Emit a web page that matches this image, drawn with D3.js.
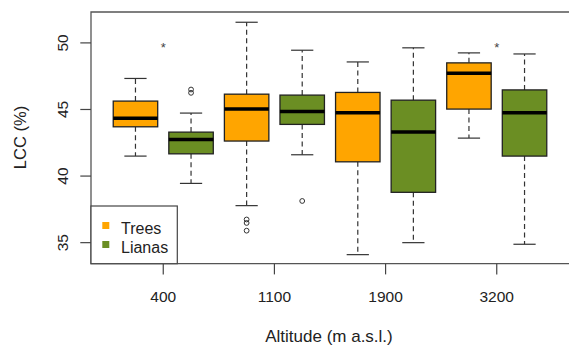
<!DOCTYPE html>
<html>
<head>
<meta charset="utf-8">
<script src="https://cdn.jsdelivr.net/npm/d3@7"></script>
<style>
  body { margin: 0; background: #fff; }
  text { font-family: "Liberation Sans", Arial, sans-serif; fill: #222; }
</style>
</head>
<body>
<svg id="lcc-boxplot" width="569" height="352"></svg>
<script>
// altitude classes and growth forms
var altitudes = ["400", "1100", "1900", "3200"];
var groups = ["Trees", "Lianas"];

// box stats per altitude: [lower whisker, q1, median, q3, upper whisker]
var treesStats = [
  [41.5, 43.7, 44.35, 45.63, 47.33],
  [37.78, 42.63, 45.03, 46.15, 51.55],
  [34.1, 41.07, 44.75, 46.28, 48.57],
  [42.85, 45.03, 47.73, 48.5, 49.25],
];
var lianasStats = [
  [39.45, 41.67, 42.75, 43.3, 44.73],
  [41.6, 43.88, 44.85, 46.08, 49.45],
  [35.0, 38.78, 43.3, 45.7, 49.63],
  [34.88, 41.5, 44.75, 46.47, 49.17],
];

// outliers per altitude
var treesOutliers = [[], [36.74, 36.48, 35.9], [], []];
var lianasOutliers = [[46.5, 46.25], [38.13], [], []];

// significance marks per altitude
var signifMarks = ["*", "", "", "*"];
var signifValue = 49.85;

var yTicks = [35, 40, 45, 50];

var svg = d3.select("#lcc-boxplot"),
  mLeft = 91,
  mTop = 12,
  mBottom = 263.7,
  mRight = 572;

var color = { Trees: "#FFA500", Lianas: "#6B8E23" };

// box positions: trees at 1,3,5,7 and lianas at 2,4,6,8
var x = d3.scaleLinear().domain([0.2, 8.8]).range([mLeft, 569]);
var y = d3.scaleLinear().domain([33.42, 52.32]).range([mBottom, mTop]);
var boxW = x(0.8) - x(0);

var boxes = [];
altitudes.forEach(function (alt, i) {
  boxes.push({ group: "Trees", pos: i * 2 + 1, s: treesStats[i], out: treesOutliers[i] });
  boxes.push({ group: "Lianas", pos: i * 2 + 2, s: lianasStats[i], out: lianasOutliers[i] });
});

var g = svg.append("g");

var box = g
  .selectAll(".box")
  .data(boxes)
  .enter()
  .append("g")
  .attr("class", "box");

// whiskers
[[3, 4], [1, 0]].forEach(function (k) {
  box
    .append("line")
    .attr("x1", (d) => x(d.pos))
    .attr("x2", (d) => x(d.pos))
    .attr("y1", (d) => y(d.s[k[0]]))
    .attr("y2", (d) => y(d.s[k[1]]))
    .attr("stroke", "#333")
    .attr("stroke-width", 1.2)
    .attr("stroke-dasharray", "5,3.5");
});

// staples
[0, 4].forEach(function (k) {
  box
    .append("line")
    .attr("x1", (d) => x(d.pos) - boxW / 4)
    .attr("x2", (d) => x(d.pos) + boxW / 4)
    .attr("y1", (d) => y(d.s[k]))
    .attr("y2", (d) => y(d.s[k]))
    .attr("stroke", "#333")
    .attr("stroke-width", 1.2);
});

box
  .append("rect")
  .attr("x", (d) => x(d.pos) - boxW / 2)
  .attr("width", boxW)
  .attr("y", (d) => y(d.s[3]))
  .attr("height", (d) => y(d.s[1]) - y(d.s[3]))
  .attr("fill", (d) => color[d.group])
  .attr("stroke", "#222")
  .attr("stroke-width", 1.3);

// medians
box
  .append("line")
  .attr("x1", (d) => x(d.pos) - boxW / 2)
  .attr("x2", (d) => x(d.pos) + boxW / 2)
  .attr("y1", (d) => y(d.s[2]))
  .attr("y2", (d) => y(d.s[2]))
  .attr("stroke", "#000")
  .attr("stroke-width", 3.5);

box
  .selectAll("circle")
  .data((d) => d.out.map((v) => ({ pos: d.pos, v: v })))
  .enter()
  .append("circle")
  .attr("cx", (d) => x(d.pos))
  .attr("cy", (d) => y(d.v))
  .attr("r", 2.4)
  .attr("fill", "none")
  .attr("stroke", "#333")
  .attr("stroke-width", 1);

// significance asterisks
g.selectAll(".signif")
  .data(signifMarks)
  .enter()
  .append("text")
  .attr("class", "signif")
  .attr("x", (d, i) => x(i * 2 + 1.5))
  .attr("y", y(signifValue) + 7)
  .attr("text-anchor", "middle")
  .style("font-size", "13px")
  .style("fill", "#444")
  .text((d) => d);

// frame
svg
  .append("path")
  .attr("d", "M" + mRight + "," + mTop + "H" + mLeft + "V" + mBottom + "H" + mRight)
  .attr("fill", "none")
  .attr("stroke", "#555")
  .attr("stroke-width", 1.3);

// x axis
var xa = svg.append("g");
altitudes.forEach(function (alt, i) {
  var px = x(i * 2 + 1.5);
  xa.append("line")
    .attr("x1", px).attr("x2", px)
    .attr("y1", mBottom).attr("y2", mBottom + 10.7)
    .attr("stroke", "#444").attr("stroke-width", 1.2);
  xa.append("text")
    .attr("x", px).attr("y", 301.5)
    .attr("text-anchor", "middle")
    .style("font-size", "15.5px")
    .text(alt);
});

// y axis
var ya = svg.append("g");
yTicks.forEach(function (t) {
  ya.append("line")
    .attr("x1", mLeft - 10.7).attr("x2", mLeft)
    .attr("y1", y(t)).attr("y2", y(t))
    .attr("stroke", "#444").attr("stroke-width", 1.2);
  ya.append("text")
    .attr("transform", "translate(68," + y(t) + ") rotate(-90)")
    .attr("text-anchor", "middle")
    .style("font-size", "15.5px")
    .text(t);
});

svg
  .append("text")
  .attr("x", (mLeft + 567) / 2)
  .attr("y", 341.5)
  .attr("text-anchor", "middle")
  .style("font-size", "17px")
  .text("Altitude (m a.s.l.)");

svg
  .append("text")
  .attr("transform", "translate(26,137.5) rotate(-90)")
  .attr("text-anchor", "middle")
  .style("font-size", "16.5px")
  .text("LCC (%)");

// legend
var lg = svg.append("g");
lg.append("rect")
  .attr("x", mLeft).attr("y", 206)
  .attr("width", 177.3 - mLeft).attr("height", mBottom - 206)
  .attr("fill", "#fff")
  .attr("stroke", "#444").attr("stroke-width", 1.2);

groups.forEach(function (name, i) {
  lg.append("rect")
    .attr("x", 102.3).attr("y", 222 + i * 19)
    .attr("width", 7).attr("height", 7)
    .attr("fill", color[name]);
  lg.append("text")
    .attr("x", 121).attr("y", 234.3 + i * 19)
    .style("font-size", "16px")
    .text(name);
});
</script>
</body>
</html>
